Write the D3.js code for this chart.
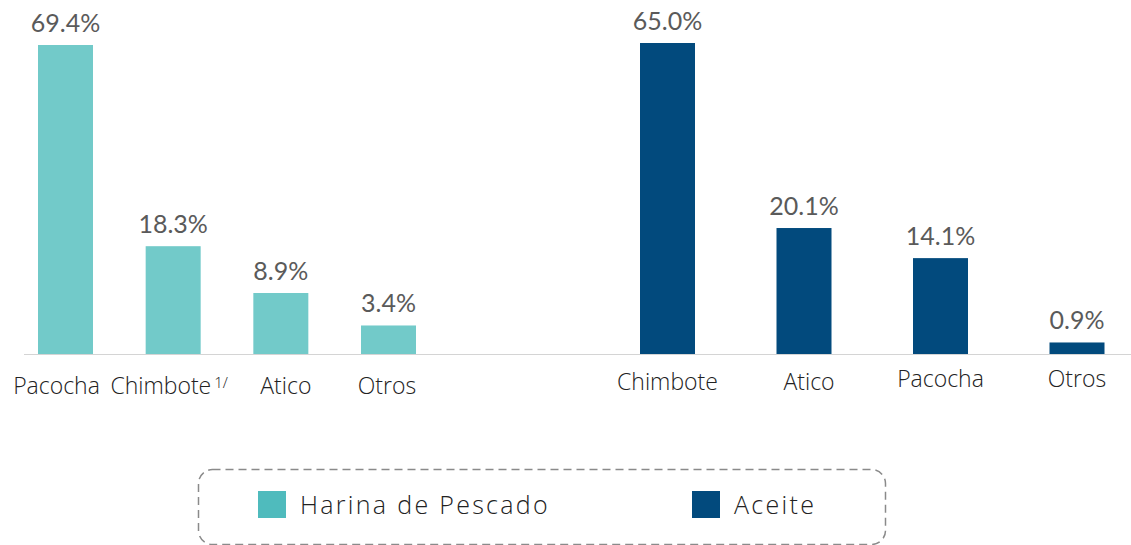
<!DOCTYPE html>
<html>
<head>
<meta charset="utf-8">
<script src="https://cdn.jsdelivr.net/npm/d3@7"></script>
<style>
  body { margin: 0; background: #fff; }
  svg { display: block; }
</style>
</head>
<body>
<svg id="chart" width="1131" height="545"></svg>
<script>
// Harina de Pescado (left group) and Aceite (right group), share in %
var harinaCats = ["Pacocha", "Chimbote", "Atico", "Otros"];
var harinaVals = [69.4, 18.3, 8.9, 3.4];
var aceiteCats = ["Chimbote", "Atico", "Pacocha", "Otros"];
var aceiteVals = [65.0, 20.1, 14.1, 0.9];
var seriesNames = ["Harina de Pescado", "Aceite"];

var svg = d3.select("#chart"),
    baseY = 354,
    barW = 55;

// the two groups come from two separate charts, each with its own
// (non linear) height scale, so each gets its own power scale
var yLeft = d3.scalePow().exponent(0.79)
    .domain([0, 69.4])
    .range([baseY, 45]);
var yRight = d3.scalePow().exponent(0.77)
    .domain([0, 65])
    .range([baseY, 43]);

var xLeft = d3.scalePoint().domain(harinaCats).range([65.5, 388.5]);
var xRight = d3.scalePoint().domain(aceiteCats).range([667.5, 1077]);

// baseline
svg.append("line")
    .attr("x1", 24).attr("x2", 1131)
    .attr("y1", baseY + 0.5).attr("y2", baseY + 0.5)
    .attr("stroke", "#d4d4d4")
    .attr("stroke-width", 1);

function group(cats, vals, x, y, color, labelY) {
    var data = cats.map((c, i) => ({cat: c, val: vals[i]}));
    var g = svg.append("g");

    g.selectAll("rect")
        .data(data)
        .enter().append("rect")
        .attr("x", d => x(d.cat) - barW / 2)
        .attr("y", d => y(d.val))
        .attr("width", barW)
        .attr("height", d => baseY - y(d.val))
        .attr("fill", color);

    g.selectAll(".val")
        .data(data)
        .enter().append("text")
        .attr("class", "val")
        .attr("x", d => x(d.cat))
        .attr("y", d => y(d.val) - 13)
        .attr("text-anchor", "middle")
        .style("font-family", "Lato, sans-serif")
        .style("font-size", "25px")
        .style("fill", "#5a5a5a")
        .text(d => d.val.toFixed(1) + "%");

    var lab = g.selectAll(".cat")
        .data(data)
        .enter().append("text")
        .attr("class", "cat")
        .attr("x", d => x(d.cat))
        .attr("y", labelY)
        .attr("text-anchor", "middle")
        .style("font-family", "'Open Sans', sans-serif")
        .style("font-size", "23px")
        .style("font-weight", 300)
        .style("fill", "#222")
        .text(d => d.cat);
    return lab;
}

var leftLabels = group(harinaCats, harinaVals, xLeft, yLeft, "#72cac9", 394);
leftLabels.attr("dx", (d, i) => [-9, -4, 5, -1.5][i]);
// footnote mark on Chimbote
leftLabels.filter(d => d.cat == "Chimbote")
    .append("tspan")
    .attr("dx", 3)
    .attr("dy", -6)
    .style("font-size", "15px")
    .text("1/");

var rightLabels = group(aceiteCats, aceiteVals, xRight, yRight, "#024a7d", 390);
rightLabels
    .attr("dx", (d, i) => [0, 5, 0, 0][i])
    .attr("dy", (d, i) => [0, 0, -3, -3][i]);

// legend
svg.append("rect")
    .attr("x", 198.5).attr("y", 469.5)
    .attr("width", 687).attr("height", 75)
    .attr("rx", 14)
    .attr("fill", "none")
    .attr("stroke", "#8a8a8a")
    .attr("stroke-width", 1.5)
    .attr("stroke-dasharray", "8,5");

var legend = svg.selectAll(".legend")
    .data(seriesNames)
    .enter().append("g")
    .attr("class", "legend")
    .attr("transform", (d, i) => "translate(" + [258, 692][i] + ",491)");

legend.append("rect")
    .attr("width", 28)
    .attr("height", 27)
    .attr("fill", (d, i) => ["#4fbbbd", "#024a7d"][i]);

legend.append("text")
    .attr("x", 42)
    .attr("y", 23)
    .style("font-family", "'Open Sans', sans-serif")
    .style("font-size", "25px")
    .style("letter-spacing", "2.3px")
    .style("font-weight", 300)
    .style("fill", "#222")
    .text(d => d);
</script>
</body>
</html>
